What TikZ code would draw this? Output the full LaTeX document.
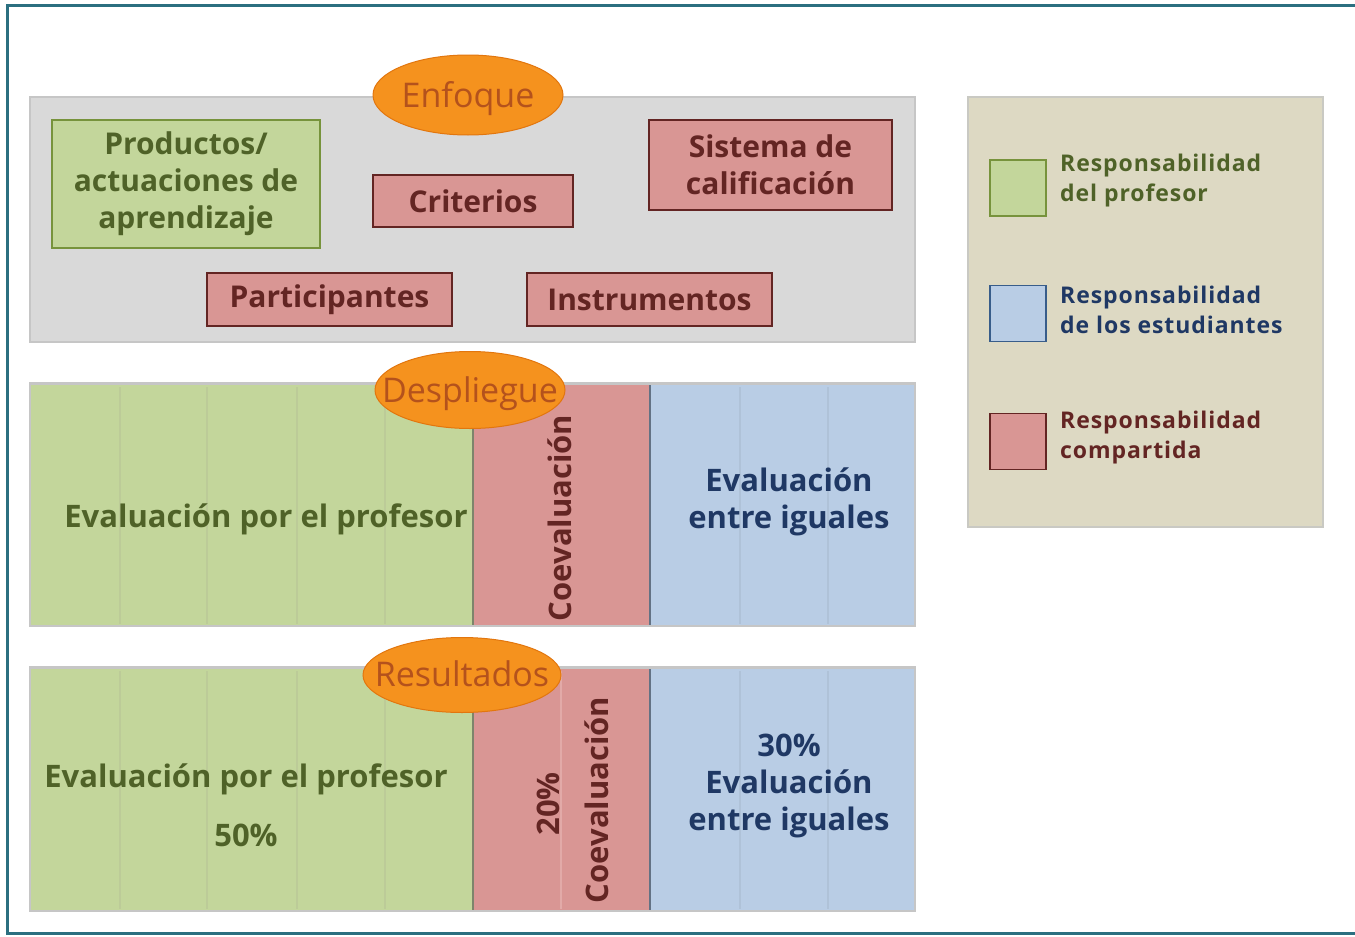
\documentclass[tikz,border=0pt]{standalone}
\usepackage{fontspec}
\setmainfont{Open Sans}
\usetikzlibrary{shapes.geometric}
\definecolor{framec}{HTML}{2B6F80}
\definecolor{panelfill}{HTML}{D9D9D9}
\definecolor{panelline}{HTML}{C6C6C6}
\definecolor{gfill}{HTML}{C3D69B}
\definecolor{gline}{HTML}{77933C}
\definecolor{gtext}{HTML}{4F6228}
\definecolor{gstripe}{HTML}{BCCB98}
\definecolor{rfill}{HTML}{D99694}
\definecolor{rline}{HTML}{632523}
\definecolor{rtext}{HTML}{632523}
\definecolor{rstripe}{HTML}{E2AAA8}
\definecolor{bfill}{HTML}{B9CDE5}
\definecolor{bline}{HTML}{385D8A}
\definecolor{btext}{HTML}{1F3864}
\definecolor{bstripe}{HTML}{AFC2D8}
\definecolor{ofill}{HTML}{F5921E}
\definecolor{oline}{HTML}{E2760E}
\definecolor{otext}{HTML}{B4521C}
\definecolor{legfill}{HTML}{DDD9C3}
\definecolor{legline}{HTML}{C9C9C3}
\tikzset{
  lbl/.style={font=\bfseries\fontsize{30}{37}\selectfont, align=center, inner sep=0pt},
  greenbox/.style={draw=gline, fill=gfill, line width=1.6pt, text=gtext, lbl},
  redbox/.style={draw=rline, fill=rfill, line width=1.6pt, text=rtext, lbl},
  stageshape/.style={ellipse, draw=oline, fill=ofill, line width=1pt, inner sep=0pt},
  stagetxt/.style={anchor=base, inner sep=0pt, text=otext, font=\fontsize{34}{36}\selectfont},
  legsq/.style={draw, line width=1.6pt, minimum width=56pt, minimum height=56pt, inner sep=0pt},
  legtxt/.style={anchor=north west, align=left, inner sep=0pt,
     font=\bfseries\fontsize{23}{30}\selectfont\addfontfeature{LetterSpace=4}},
  paneltxt/.style={font=\bfseries\fontsize{31}{37}\selectfont, align=center, inner sep=0pt},
}
\begin{document}
\begin{tikzpicture}[x=1pt,y=-1pt]
\useasboundingbox (0,0) rectangle (1355,937);
\fill[white] (0,0) rectangle (1355,937);
% outer frame
\draw[framec, line width=3pt] (1355,5.5) -- (7.5,5.5) -- (7.5,933.5) -- (1355,933.5);

% ---------- Enfoque panel ----------
\fill[panelfill, draw=panelline, line width=2pt] (30,97) rectangle (915,342);
\node[greenbox, minimum width=268pt, minimum height=128pt] (prod) at (186,184)
  {Productos/\\actuaciones de\\aprendizaje};
\node[redbox, minimum width=200pt, minimum height=52pt] (crit) at (473,201) {Criterios};
\node[redbox, minimum width=243pt, minimum height=90pt] (sist) at (770.5,165) {Sistema de\\calificación};
\node[redbox, minimum width=245pt, minimum height=53pt] (part) at (329.5,299.5) {Participantes};
\node[redbox, minimum width=245pt, minimum height=53pt] (inst) at (649.5,299.5) {Instrumentos};
\node[stageshape, minimum width=190pt, minimum height=80pt] (enf) at (468,95) {};
\node[stagetxt] (enft) at (468,107) {Enfoque};

% ---------- Despliegue panel ----------
\fill[panelline] (29,382) rectangle (916,627);
\fill[gfill] (31,385) rectangle (473,625);
\fill[rfill] (473,385) rectangle (650,625);
\fill[bfill] (650,385) rectangle (914,625);
\foreach \xx in {120,207,297,385} \draw[gstripe, line width=2.5pt] (\xx,387) -- (\xx,624);
\foreach \xx in {740,828} \draw[bstripe, line width=2.5pt] (\xx,387) -- (\xx,624);
\draw[gray!70!gline, line width=2pt] (473,385) -- (473,625);
\draw[gray!60!bline, line width=2pt] (650,385) -- (650,625);
\node[paneltxt, text=gtext] (dprof) at (266,519) {Evaluación por el profesor};
\node[paneltxt, text=rtext, rotate=90] (dcoev) at (560,518) {Coevaluación};
\node[paneltxt, text=btext] (digu) at (789,502) {Evaluación\\entre iguales};
\node[stageshape, minimum width=190pt, minimum height=77pt] (desp) at (470,390) {};
\node[stagetxt] (despt) at (470,402) {Despliegue};

% ---------- Resultados panel ----------
\fill[panelline] (29,666) rectangle (916,912);
\fill[gfill] (31,669) rectangle (473,910);
\fill[rfill] (473,669) rectangle (650,910);
\fill[bfill] (650,669) rectangle (914,910);
\foreach \xx in {120,207,297,385} \draw[gstripe, line width=2.5pt] (\xx,671) -- (\xx,909);
\foreach \xx in {740,828} \draw[bstripe, line width=2.5pt] (\xx,671) -- (\xx,909);
\draw[rstripe, line width=1.5pt] (561,671) -- (561,909);
\draw[gray!70!gline, line width=2pt] (473,669) -- (473,910);
\draw[gray!60!bline, line width=2pt] (650,669) -- (650,910);
\node[paneltxt, text=gtext] (rprof) at (246,779) {Evaluación por el profesor};
\node[paneltxt, text=gtext] (rp50) at (246,835) {50\%};
\node[paneltxt, text=rtext, rotate=90] (rp20) at (548,804) {20\%};
\node[paneltxt, text=rtext, rotate=90] (rcoev) at (597,800) {Coevaluación};
\node[paneltxt, text=btext] (rigu) at (789,786) {30\%\\Evaluación\\entre iguales};
\node[stageshape, minimum width=198pt, minimum height=75pt] (resu) at (462,675) {};
\node[stagetxt] (resut) at (462,686) {Resultados};

% ---------- Legend ----------
\fill[legfill, draw=legline, line width=2pt] (968,97) rectangle (1323,527);
\node[legsq, draw=gline, fill=gfill] (lg) at (1018,188) {};
\node[legtxt, text=gtext] (lgt) at (1060,154) {Responsabilidad\\del profesor};
\node[legsq, draw=bline, fill=bfill] (lb) at (1018,313.5) {};
\node[legtxt, text=btext] (lbt) at (1060,286) {Responsabilidad\\de los estudiantes};
\node[legsq, draw=rline, fill=rfill] (lr) at (1018,441.5) {};
\node[legtxt, text=rtext] (lrt) at (1060,411) {Responsabilidad\\compartida};
\end{tikzpicture}
\end{document}
